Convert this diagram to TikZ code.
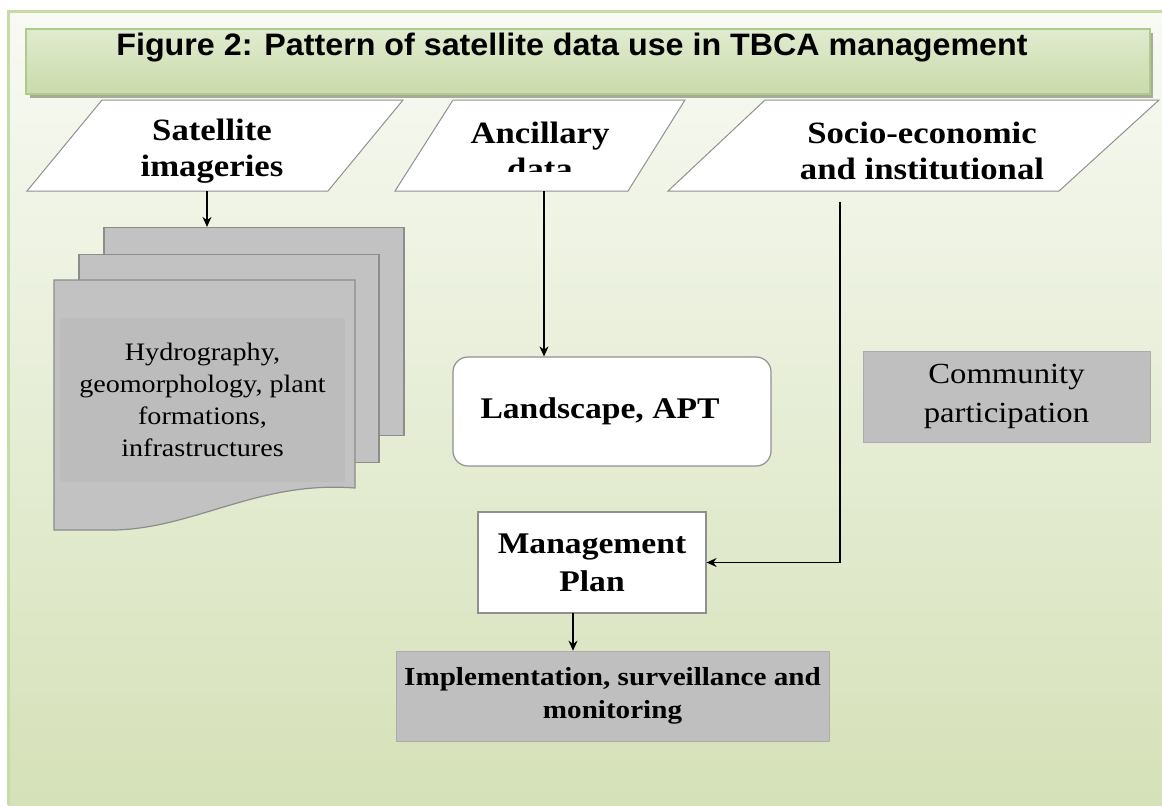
\documentclass[tikz,border=0pt]{standalone}
\usepackage{fontspec}
\setmainfont{Liberation Serif}[FakeStretch=1.12]
\newfontfamily\titlefont{Liberation Sans}[FakeStretch=1.04]
\usepackage{tikz}
\usepackage{xcolor}
\usetikzlibrary{arrows.meta}

\begin{document}
\begin{tikzpicture}[x=0.5pt,y=-0.5pt,
  inbox/.style={draw=boxline,fill=white,line width=0.5pt},
  sheet/.style={rectangle,draw=pageline,fill=pagegray,line width=0.6pt,inner sep=0pt,minimum width=150pt,minimum height=104pt},
  graybox/.style={rectangle,fill=boxgray,draw=boxgray!90!black,line width=0.3pt,align=center,inner sep=0pt},
  whitebox/.style={rectangle,fill=white,draw=boxline,line width=0.6pt,align=center,inner sep=0pt},
  datalabel/.style={align=center,font=\bfseries\fontsize{15.5}{18}\selectfont},
  link/.style={-{Stealth[length=5pt,width=4.5pt]},line width=0.6pt,draw=black}]
\definecolor{bgtop}{HTML}{F8FAF4}
\definecolor{bgmid}{HTML}{EBF1E0}
\definecolor{bgbot}{HTML}{D5E1B8}
\definecolor{framegreen}{HTML}{C6DBA5}
\definecolor{bartop}{HTML}{E0EBCF}
\definecolor{barmid}{HTML}{F2F6EA}
\definecolor{barbot}{HTML}{CADBAA}
\definecolor{barline}{HTML}{B2C98C}
\definecolor{shadowgray}{HTML}{A6AC9A}
\definecolor{pagegray}{HTML}{C2C2C2}
\definecolor{pageline}{HTML}{8C8C8C}
\definecolor{innergray}{HTML}{BCBCBC}
\definecolor{boxgray}{HTML}{BFBFBF}
\definecolor{boxline}{HTML}{909090}
\useasboundingbox (0,0) rectangle (1162,805);
\fill[white] (0,0) rectangle (1162,805);
\shade[top color=bgtop,middle color=bgmid,bottom color=bgbot] (8,11) rectangle (1162,805);
\draw[framegreen,line width=1.5pt] (8,805) -- (8,11) -- (1162,11);

\fill[shadowgray] (30,33) rectangle (1153,98);
\shadedraw[top color=bartop,middle color=barmid,bottom color=barbot,draw=barline,line width=0.6pt] (26,29) rectangle (1150,94);
\node[font=\titlefont\bfseries\fontsize{15.5}{18}\selectfont] (title) at (572,48) {Figure 2: Pattern of satellite data use in TBCA management};

\foreach \a/\b/\c/\d in {27/102/403/328,395/453/685/628,668/765/1159/1059}
  {\draw[inbox] (\a,191) -- (\b,100) -- (\c,100) -- (\d,191) -- cycle;}
\node[datalabel] (sat) at (212,151) {Satellite\\ imageries};
\begin{scope}
\clip (380,100) rectangle (700,171);
\node[datalabel] (anc) at (540,151) {Ancillary\\ data};
\end{scope}
\node[datalabel] (soc) at (922,151) {Socio-economic\\ and institutional};
\coordinate (satB) at (207,191);
\coordinate (ancB) at (544,191);
\coordinate (socB) at (840,202);

\foreach \nm/\cx/\cy in {back/254/331.5,mid/229/358.5}
  {\node[sheet] (\nm) at (\cx,\cy) {};}
\draw[draw=pageline,fill=pagegray,line width=0.6pt] (54,280) -- (355,280) -- (355,488) .. controls (255,480) and (190,532) .. (105,530) -- (54,530) -- cycle;
\node[fill=innergray,minimum width=142.5pt,minimum height=82pt,inner sep=0pt,align=center,font=\fontsize{12.55}{16}\selectfont] (hydro) at (202.5,400) {Hydrography,\\ geomorphology, plant\\ formations,\\ infrastructures};

\node[whitebox,rounded corners=7.5pt,minimum width=159pt,minimum height=54.5pt,font=\bfseries\fontsize{15}{18}\selectfont] (land) at (612,411.5) {Landscape, APT\hspace*{12pt}};
\node[whitebox,minimum width=114pt,minimum height=50.5pt,font=\bfseries\fontsize{15}{19}\selectfont] (mgmt) at (592,562.5) {Management\\ Plan};
\node[graybox,minimum width=216.5pt,minimum height=45pt,font=\bfseries\fontsize{13}{16.5}\selectfont] (impl) at (612.5,696) {Implementation, surveillance and\\ monitoring};
\node[graybox,minimum width=143.5pt,minimum height=45.5pt,font=\fontsize{14.6}{19.5}\selectfont] (comm) at (1006.5,396.5) {Community\\ participation};
\coordinate (mgmtS) at (573,613);

\draw[link] (satB) -- (satB |- back.north);
\draw[link] (ancB) -- (ancB |- land.north);
\draw[link] (socB) |- (mgmt.east);
\draw[link] (mgmtS) -- (mgmtS |- impl.north);
\end{tikzpicture}
\end{document}
